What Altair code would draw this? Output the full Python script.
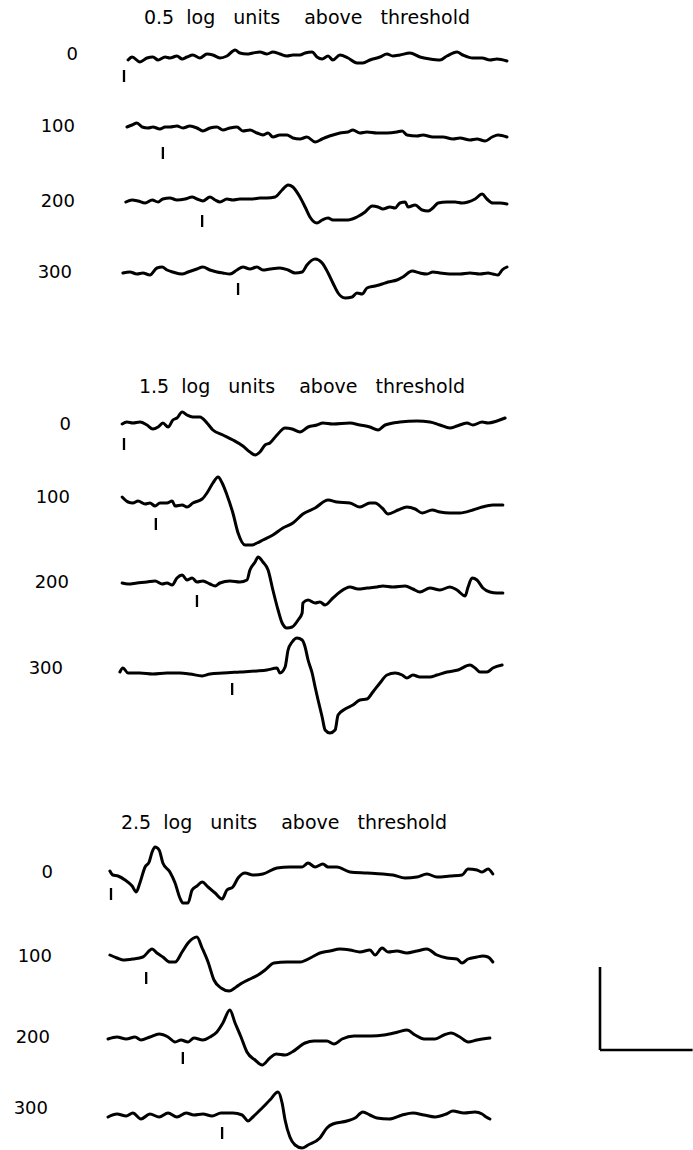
import altair as alt
import pandas as pd

# ---------------------------------------------------------------
# Sweeps: time after the sweep's zero mark (ms) and deflection.
# Rows within a block are the delays 0, 100, 200, 300 ms.
# ---------------------------------------------------------------

# 0.5 log units above threshold
t_05_0 = [11, 22, 43, 62, 78, 92, 111, 124, 143, 157, 170, 186, 205, 224, 240, 259, 278, 300, 313, 332,
          348, 367, 386, 402, 421, 440, 456, 475, 489, 508, 521, 535, 551, 564, 583, 605, 629, 645, 664, 691,
          710, 726, 745, 772, 799, 826, 853, 872, 899, 915, 942, 967, 988, 1007, 1034]
a_05_0 = [-5, -2, -7, -3, -2, -5, -2, -3, -1, -4, -2, 0, -3, 1, 0, -3, -1, 5, 2, 1,
          2, 3, 1, 3, 1, -1, 0, 0, 2, 3, -2, -4, -1, -5, 0, -3, -8, -8, -5, -2,
          1, -1, 0, 2, -2, -4, -5, -1, 3, 0, -3, -3, -5, -4, -6]

t_05_100 = [8, 22, 35, 49, 65, 78, 97, 111, 124, 143, 159, 178, 197, 213, 232, 251, 267, 286, 305, 321,
            340, 359, 375, 389, 402, 421, 440, 456, 475, 494, 516, 535, 548, 564, 583, 605, 618, 637, 656, 683,
            710, 737, 751, 764, 791, 807, 834, 861, 888, 907, 934, 953, 975, 994, 1010, 1034]
a_05_100 = [0, 2, 4, 0, -1, 0, -2, 0, 0, 1, -1, 1, -1, -4, -1, 0, -3, -1, 0, -4,
            -3, -6, -8, -6, -10, -8, -8, -11, -12, -10, -15, -12, -10, -8, -6, -5, -3, -6, -5, -6,
            -6, -5, -4, -8, -9, -8, -10, -10, -12, -11, -13, -12, -14, -10, -8, -10]

t_05_200 = [5, 22, 38, 57, 76, 92, 105, 124, 143, 165, 184, 197, 213, 232, 246, 259, 278, 294, 313, 332,
            348, 367, 386, 408, 427, 443, 456, 475, 489, 502, 521, 535, 551, 564, 583, 605, 629, 651, 670, 686,
            699, 718, 732, 745, 759, 767, 786, 805, 821, 834, 848, 872, 894, 913, 929, 948, 967, 980, 996, 1015,
            1034]
a_05_200 = [0, 2, 1, -1, 2, 0, 3, 4, 2, 3, 5, 3, 1, 5, 2, 0, 3, 2, 3, 3,
            3, 4, 4, 5, 12, 17, 15, 5, -5, -15, -21, -18, -16, -18, -18, -18, -15, -10, -4, -5,
            -7, -5, -6, -1, 0, -5, -3, -8, -9, -6, -1, 0, 0, -1, 0, 3, 8, 3, -1, -1,
            -2]

t_05_300 = [-3, 16, 35, 51, 70, 89, 103, 116, 132, 157, 173, 197, 213, 232, 251, 267, 286, 305, 321, 340,
            359, 375, 394, 421, 443, 462, 481, 494, 516, 535, 551, 564, 578, 597, 616, 629, 643, 656, 678, 697,
            713, 737, 753, 778, 799, 818, 834, 853, 880, 907, 934, 961, 983, 996, 1010, 1021, 1034]
a_05_300 = [0, 1, -1, 0, -2, 5, 6, 3, 1, -1, 1, 4, 6, 3, 1, 0, -1, 3, 6, 4,
            6, 3, 4, 5, 3, 0, 1, 8, 14, 10, 0, -10, -20, -25, -24, -20, -21, -15, -13, -11,
            -9, -7, -4, 2, 0, -1, 1, 0, -1, -1, 0, -1, 0, -1, -2, 3, 6]

# 1.5 log units above threshold
t_15_0 = [-5, 8, 24, 43, 62, 78, 92, 105, 119, 132, 143, 157, 170, 186, 205, 224, 240, 267, 294, 321,
          340, 354, 367, 381, 394, 413, 435, 454, 475, 497, 521, 537, 564, 610, 637, 664, 686, 705, 745, 791,
          826, 853, 880, 899, 926, 942, 967, 983, 1007, 1029]
a_15_0 = [1, 3, 2, 3, 0, -4, -2, 2, -2, 5, 7, 13, 10, 8, 8, 2, -5, -10, -15, -21,
          -27, -30, -27, -20, -18, -10, -3, -4, -7, -2, 0, 2, 1, 2, 0, -2, -5, 0, 3, 4,
          3, 0, -3, -1, 2, 0, 3, 2, 4, 7]

t_15_100 = [-5, 11, 24, 38, 57, 70, 84, 97, 116, 130, 138, 157, 170, 186, 211, 224, 240, 254, 265, 278,
            294, 308, 327, 346, 359, 375, 402, 429, 456, 483, 516, 551, 575, 610, 637, 664, 678, 697, 713, 740,
            764, 786, 805, 832, 853, 880, 907, 942, 967, 996, 1023]
a_15_100 = [1, -4, -5, -3, -6, -5, -8, -5, -5, -3, -8, -7, -9, -5, -1, 5, 15, 21, 15, 3,
            -15, -35, -47, -47, -45, -42, -37, -30, -25, -16, -10, -2, -4, -5, -9, -5, -5, -10, -16, -12,
            -9, -11, -15, -12, -14, -15, -15, -12, -9, -7, -7]

t_15_200 = [-5, 11, 35, 62, 84, 103, 116, 130, 143, 157, 170, 184, 197, 213, 232, 246, 259, 286, 313, 332,
            340, 354, 362, 375, 389, 402, 416, 427, 440, 454, 470, 481, 483, 497, 516, 529, 543, 564, 583, 610,
            632, 656, 683, 699, 726, 759, 780, 799, 826, 853, 880, 899, 921, 929, 940, 953, 969, 988, 1007, 1023]
a_15_200 = [0, -1, 0, 1, 2, -1, 0, -2, 5, 8, 3, 5, 1, 2, -1, -3, 0, 2, 1, 3,
            13, 21, 26, 21, 13, -7, -27, -40, -45, -44, -37, -30, -20, -17, -20, -19, -22, -15, -9, -4,
            -6, -5, -4, -3, -4, -3, -6, -9, -5, -7, -4, -7, -13, -4, 5, 3, -5, -9, -10, -10]

t_15_300 = [-11, -3, 11, 43, 78, 116, 151, 178, 211, 232, 267, 313, 359, 386, 413, 421, 435, 443, 454, 467,
            481, 489, 497, 508, 516, 524, 535, 543, 556, 570, 578, 597, 618, 637, 656, 672, 691, 710, 732, 751,
            764, 780, 799, 826, 845, 872, 902, 934, 948, 961, 980, 996, 1021]
a_15_300 = [-3, 1, -4, -4, -5, -4, -4, -5, -7, -5, -4, -3, -2, -1, 1, -4, 2, 19, 27, 31,
            29, 22, 9, -4, -18, -31, -48, -61, -64, -61, -46, -40, -36, -31, -30, -23, -14, -6, -4, -6,
            -9, -6, -8, -8, -6, -3, -1, 4, 1, -3, -3, 1, 4]

# 2.5 log units above threshold
t_25_0 = [-3, 5, 19, 38, 57, 68, 78, 92, 103, 111, 119, 130, 140, 159, 173, 186, 194, 208, 219, 232,
          246, 262, 281, 300, 313, 329, 343, 362, 383, 410, 448, 483, 516, 532, 551, 572, 586, 610, 645, 691,
          734, 761, 794, 826, 853, 880, 915, 948, 964, 988, 1002, 1018, 1031]
a_25_0 = [2, -2, -3, -7, -13, -19, -10, 6, 11, 21, 26, 23, 10, 1, -10, -25, -30, -30, -17, -13,
          -9, -14, -20, -26, -17, -14, -5, 0, -2, -1, 5, 6, 6, 10, 6, 9, 6, 6, 1, 0,
          -1, -2, -5, -4, -1, -4, -3, -2, 4, 3, 1, 4, -1]

t_25_100 = [-3, 16, 32, 59, 86, 111, 124, 140, 159, 173, 192, 208, 232, 246, 262, 278, 297, 319, 338, 354,
            381, 397, 416, 440, 475, 510, 543, 564, 591, 618, 645, 672, 699, 713, 732, 748, 772, 799, 826, 853,
            880, 907, 934, 948, 964, 988, 1004, 1018, 1031]
a_25_100 = [2, -1, -3, -2, 0, 8, 4, 0, -5, -5, 5, 14, 20, 9, -5, -23, -31, -34, -30, -26,
            -21, -18, -13, -6, -5, -5, 0, 4, 6, 8, 7, 5, 7, 2, 9, 5, 6, 4, 6, 8,
            2, -1, -2, -6, -2, 0, 1, 0, -5]

t_25_200 = [-8, 16, 41, 65, 81, 105, 130, 154, 173, 189, 208, 224, 248, 267, 286, 302, 321, 335, 351, 367,
            389, 408, 429, 446, 470, 489, 524, 548, 583, 602, 624, 656, 702, 737, 775, 799, 821, 845, 875, 899,
            918, 942, 964, 988, 1023]
a_25_200 = [-1, 1, -1, 1, -2, 1, 4, 1, -4, -2, -4, 0, -2, 1, 6, 15, 28, 15, 1, -14,
            -22, -27, -20, -16, -17, -14, -5, -3, -3, -6, -1, 2, 2, 3, 6, 8, 3, -1, -1, 3,
            5, 1, -4, -2, 0]

t_25_300 = [-8, 16, 41, 59, 81, 105, 130, 154, 178, 203, 224, 248, 273, 297, 329, 354, 370, 383, 408, 429,
            451, 462, 470, 483, 497, 516, 532, 564, 583, 599, 637, 659, 680, 699, 718, 751, 786, 815, 845, 875,
            905, 923, 953, 983, 1002, 1013, 1023]
a_25_300 = [-8, -5, -7, -4, -10, -5, -8, -4, -8, -4, -6, -5, -7, -4, -4, -6, -12, -8, 1, 9,
            17, 6, -11, -28, -36, -39, -36, -29, -19, -15, -12, -9, -3, -6, -9, -10, -6, -4, -6, -8,
            -5, -2, -4, -3, -5, -8, -10]

# Stimulus marker times under each sweep (ms)
MARK_05 = [0, 105, 211, 308]
MARK_15 = [0, 86, 197, 292]
MARK_25 = [0, 95, 194, 300]

DELAY_LABELS = ["0", "100", "200", "300"]
NB = "\u00a0"


def spaced(words, gaps):
    """Join words with runs of non-breaking spaces (SVG collapses plain ones)."""
    out = words[0]
    for w, g in zip(words[1:], gaps):
        out += NB * g + w
    return out


TITLE_GAPS = [2, 3, 4, 3]
TITLES = [spaced(["0.5", "log", "units", "above", "threshold"], TITLE_GAPS),
          spaced(["1.5", "log", "units", "above", "threshold"], TITLE_GAPS),
          spaced(["2.5", "log", "units", "above", "threshold"], TITLE_GAPS)]

# Calibration bar
CAL_MS = 250
CAL_AMP = 83

SWEEPS = [
    [(t_05_0, a_05_0), (t_05_100, a_05_100), (t_05_200, a_05_200), (t_05_300, a_05_300)],
    [(t_15_0, a_15_0), (t_15_100, a_15_100), (t_15_200, a_15_200), (t_15_300, a_15_300)],
    [(t_25_0, a_25_0), (t_25_100, a_25_100), (t_25_200, a_25_200), (t_25_300, a_25_300)],
]
MARKS = [MARK_05, MARK_15, MARK_25]

# ---------------------------------------------------------------
# Page layout (pixels)
# ---------------------------------------------------------------
W, H = 693, 1150
MS_PER_PX = 2.7
GROUP_X0 = [124, 124, 111]                       # sweep zero mark
ROW_Y = [[55, 127, 202, 273],
         [425, 498, 583, 669],
         [873, 957, 1038, 1109]]                 # row baselines
LABEL_RIGHT = [[78, 75, 75, 72],
               [71, 70, 69, 63],
               [53, 52, 50, 48]]
TITLE_XY = [(307, 18), (302, 387), (284, 823)]
TICK_DROP = [[15, 20, 13, 10],
             [13, 20, 12, 14],
             [15, 15, 14, 18]]
TICK_LEN = 12
CAL_X, CAL_Y = 600, 1050

FONT = "DejaVu Sans"


def px_to_ms(px):
    return px * MS_PER_PX


def px_to_lvl(px):
    return -px


trace_rows, tick_rows, label_rows, title_rows = [], [], [], []
for g, block in enumerate(SWEEPS):
    x0 = px_to_ms(GROUP_X0[g])
    tx, ty = TITLE_XY[g]
    title_rows.append({"x": px_to_ms(tx), "y": px_to_lvl(ty), "text": TITLES[g]})
    for r, (ts, amps) in enumerate(block):
        base = px_to_lvl(ROW_Y[g][r])
        for i, (t, a) in enumerate(zip(ts, amps)):
            trace_rows.append({"trace": f"{g}-{r}", "i": i, "x": x0 + t, "y": base + a})
        tick_rows.append({
            "x": x0 + MARKS[g][r],
            "y": base - TICK_DROP[g][r],
            "y2": base - TICK_DROP[g][r] - TICK_LEN,
        })
        label_rows.append({"x": px_to_ms(LABEL_RIGHT[g][r]), "y": base, "text": DELAY_LABELS[r]})

traces = pd.DataFrame(trace_rows)
ticks = pd.DataFrame(tick_rows)
labels = pd.DataFrame(label_rows)
titles = pd.DataFrame(title_rows)

cal_x0 = px_to_ms(CAL_X)
cal_y0 = px_to_lvl(CAL_Y)
cal_h = pd.DataFrame([{"x": cal_x0, "x2": cal_x0 + CAL_MS, "y": cal_y0}])
cal_v = pd.DataFrame([{"x": cal_x0, "y": cal_y0, "y2": cal_y0 + CAL_AMP}])

XS = alt.Scale(domain=[0, px_to_ms(W)], nice=False, zero=False)
YS = alt.Scale(domain=[-H, 0], nice=False, zero=False)

line_layer = alt.Chart(traces).mark_line(
    color="black", strokeWidth=3, interpolate="monotone",
    strokeJoin="round", strokeCap="round"
).encode(
    x=alt.X("x:Q", scale=XS, axis=None),
    y=alt.Y("y:Q", scale=YS, axis=None),
    detail="trace:N",
    order="i:Q",
)

tick_layer = alt.Chart(ticks).mark_rule(color="black", strokeWidth=2.3).encode(
    x=alt.X("x:Q", scale=XS, axis=None),
    y=alt.Y("y:Q", scale=YS, axis=None),
    y2="y2:Q",
)

label_layer = alt.Chart(labels).mark_text(
    font=FONT, fontSize=18, align="right", baseline="middle", color="black"
).encode(
    x=alt.X("x:Q", scale=XS, axis=None),
    y=alt.Y("y:Q", scale=YS, axis=None),
    text="text:N",
)

title_layer = alt.Chart(titles).mark_text(
    font=FONT, fontSize=19, align="center", baseline="middle", color="black"
).encode(
    x=alt.X("x:Q", scale=XS, axis=None),
    y=alt.Y("y:Q", scale=YS, axis=None),
    text="text:N",
)

cal_h_layer = alt.Chart(cal_h).mark_rule(color="black", strokeWidth=2.6).encode(
    x=alt.X("x:Q", scale=XS, axis=None),
    x2="x2:Q",
    y=alt.Y("y:Q", scale=YS, axis=None),
)

cal_v_layer = alt.Chart(cal_v).mark_rule(color="black", strokeWidth=2.6).encode(
    x=alt.X("x:Q", scale=XS, axis=None),
    y=alt.Y("y:Q", scale=YS, axis=None),
    y2="y2:Q",
)

chart = alt.layer(
    line_layer, tick_layer, label_layer, title_layer, cal_h_layer, cal_v_layer
).properties(
    width=W, height=H, padding=0, autosize=alt.AutoSizeParams(type="none"),
    background="white",
).configure_view(stroke=None)

chart.save("out.html", embed_options={"renderer": "svg", "actions": False})
